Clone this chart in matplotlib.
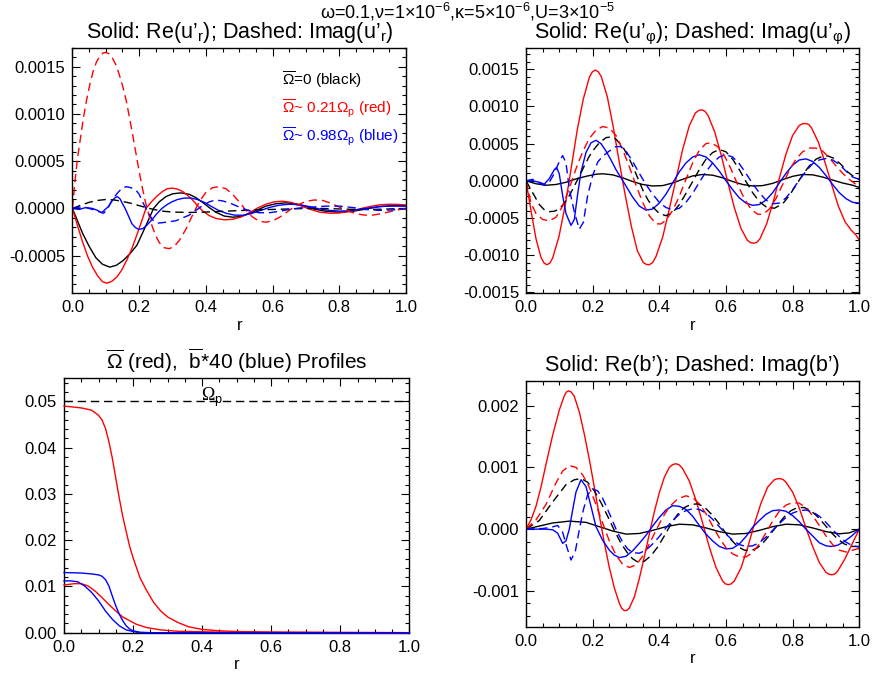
import numpy as np
import matplotlib
matplotlib.use("Agg")
import matplotlib.pyplot as plt
from matplotlib.ticker import MultipleLocator, FuncFormatter

plt.rcParams["font.family"] = ["Liberation Sans", "DejaVu Sans"]
plt.rcParams["mathtext.fontset"] = "custom"
plt.rcParams["mathtext.rm"] = "Liberation Sans"
plt.rcParams["mathtext.it"] = "Liberation Sans:italic"
plt.rcParams["mathtext.bf"] = "Liberation Sans:bold"
plt.rcParams["axes.unicode_minus"] = False

# perturbation values are stored in units of 1e-4
SCALE = 1e-4

# ---- panel 1: u'_r ----
UR_RE_K_R = [0.0, 0.015, 0.03, 0.05, 0.07, 0.09, 0.112, 0.132, 0.152, 0.172, 0.193, 0.21,
             0.228, 0.243, 0.26, 0.28, 0.30, 0.325, 0.35, 0.37, 0.39, 0.41, 0.43, 0.455,
             0.48, 0.505, 0.53, 0.555, 0.58, 0.61, 0.64, 0.67, 0.70, 0.73, 0.76, 0.80,
             0.84, 0.88, 0.92, 0.96, 1.0]
UR_RE_K = [0.0, -1.3, -2.6, -4.0, -5.2, -5.9, -6.2, -6.0, -5.5, -4.8, -3.9, -2.6,
           -1.2, 0.0, 0.7, 1.25, 1.55, 1.65, 1.5, 1.15, 0.65, 0.1, -0.4, -0.8,
           -0.92, -0.85, -0.55, -0.15, 0.25, 0.5, 0.6, 0.5, 0.2, -0.1, -0.3, -0.39,
           -0.3, -0.05, 0.2, 0.3, 0.3]

UR_RE_R_R = [0.0, 0.015, 0.03, 0.045, 0.06, 0.075, 0.09, 0.103, 0.118, 0.133, 0.148,
             0.163, 0.178, 0.193, 0.208, 0.22, 0.238, 0.253, 0.27, 0.285, 0.30, 0.315,
             0.33, 0.345, 0.36, 0.375, 0.39, 0.41, 0.43, 0.455, 0.48, 0.505, 0.53,
             0.555, 0.58, 0.605, 0.63, 0.655, 0.68, 0.71, 0.74, 0.77, 0.80, 0.83, 0.86,
             0.89, 0.92, 0.95, 0.975, 1.0]
UR_RE_R = [0.0, -1.8, -3.5, -5.0, -6.2, -7.1, -7.75, -7.9, -7.7, -7.25, -6.5,
           -5.45, -4.25, -2.8, -1.3, 0.0, 0.75, 1.3, 1.8, 2.1, 2.15, 2.05,
           1.8, 1.4, 0.9, 0.3, -0.25, -0.75, -1.05, -1.2, -1.15, -0.9, -0.45,
           0.05, 0.45, 0.7, 0.77, 0.65, 0.35, -0.05, -0.38, -0.5, -0.48, -0.3, -0.05,
           0.2, 0.38, 0.45, 0.43, 0.38]

UR_RE_B_R = [0.0, 0.02, 0.04, 0.06, 0.075, 0.088, 0.098, 0.108, 0.118, 0.128, 0.135,
             0.143, 0.15, 0.158, 0.168, 0.178, 0.188, 0.198, 0.21, 0.222, 0.238, 0.253,
             0.268, 0.283, 0.298, 0.315, 0.335, 0.355, 0.375, 0.395, 0.415, 0.435,
             0.46, 0.485, 0.51, 0.535, 0.56, 0.59, 0.62, 0.65, 0.68, 0.71, 0.74,
             0.77, 0.80, 0.83, 0.86, 0.89, 0.92, 0.95, 1.0]
UR_RE_B = [0.0, -0.1, 0.1, 0.0, -0.2, -0.45, -0.1, 0.2, 0.8, 1.15, 1.25,
           1.0, 0.5, 0.0, -0.8, -1.6, -2.0, -2.2, -2.15, -1.8, -1.2, -0.55,
           0.0, 0.4, 0.7, 0.95, 1.1, 1.1, 0.95, 0.65, 0.25, -0.15,
           -0.5, -0.7, -0.72, -0.55, -0.25, 0.1, 0.35, 0.45, 0.4, 0.2, -0.05,
           -0.2, -0.28, -0.25, -0.1, 0.05, 0.2, 0.25, 0.25]

UR_IM_K_R = [0.0, 0.025, 0.05, 0.075, 0.10, 0.125, 0.15, 0.175, 0.20, 0.225, 0.25,
             0.275, 0.30, 0.35, 0.40, 0.45, 0.50, 0.55, 0.60, 0.65, 0.70, 0.75,
             0.80, 0.85, 0.90, 0.95, 1.0]
UR_IM_K = [0.0, 0.35, 0.65, 0.85, 0.95, 0.9, 0.75, 0.55, 0.3, 0.05, -0.15,
           -0.3, -0.38, -0.42, -0.38, -0.3, -0.22, -0.15, -0.1, -0.05, 0.0, 0.0,
           -0.05, -0.1, -0.1, -0.05, 0.0]

UR_IM_R_R = [0.0, 0.008, 0.015, 0.023, 0.032, 0.042, 0.052, 0.062, 0.072, 0.082, 0.092,
             0.10, 0.11, 0.12, 0.13, 0.14, 0.15, 0.16, 0.17, 0.18, 0.19, 0.20, 0.21,
             0.22, 0.23, 0.24, 0.25, 0.26, 0.275, 0.29, 0.305, 0.32, 0.34, 0.36,
             0.38, 0.40, 0.42, 0.44, 0.46, 0.48, 0.50, 0.52, 0.54, 0.56, 0.58, 0.60,
             0.62, 0.64, 0.66, 0.68, 0.70, 0.725, 0.75, 0.775, 0.80, 0.825, 0.85,
             0.875, 0.90, 0.925, 0.95, 0.975, 1.0]
UR_IM_R = [0.0, 3.0, 5.3, 7.2, 9.4, 11.4, 13.1, 14.5, 15.5, 16.1, 16.45,
           16.5, 16.35, 15.9, 15.2, 14.2, 13.0, 11.6, 9.8, 7.9, 5.9, 3.9, 2.1,
           0.5, -0.8, -2.0, -2.9, -3.6, -4.15, -4.25, -4.0, -3.4, -2.2, -0.7,
           0.7, 1.7, 2.2, 2.3, 2.1, 1.5, 0.7, -0.2, -0.9, -1.35, -1.45, -1.3,
           -0.95, -0.45, 0.05, 0.45, 0.75, 0.9, 0.85, 0.55, 0.15, -0.25, -0.55,
           -0.7, -0.7, -0.55, -0.35, -0.15, 0.0]

UR_IM_B_R = [0.0, 0.02, 0.04, 0.06, 0.08, 0.094, 0.105, 0.115, 0.125, 0.138, 0.15,
             0.162, 0.175, 0.19, 0.20, 0.213, 0.228, 0.24, 0.255, 0.27, 0.29, 0.31,
             0.33, 0.35, 0.37, 0.39, 0.41, 0.43, 0.45, 0.47, 0.49, 0.51, 0.53,
             0.56, 0.59, 0.62, 0.65, 0.68, 0.72, 0.76, 0.80, 0.84, 0.88, 0.92,
             0.96, 1.0]
UR_IM_B = [0.0, 0.15, 0.1, -0.1, -0.35, -0.5, 0.0, 0.6, 1.2, 1.75, 2.2,
           2.3, 2.2, 1.95, 1.5, 0.5, -0.5, -1.2, -1.55, -1.5, -1.4, -1.3,
           -1.0, -0.7, -0.2, 0.3, 0.7, 0.9, 0.8, 0.6, 0.3, 0.0, -0.25,
           -0.45, -0.45, -0.3, -0.1, 0.05, 0.15, 0.25, 0.25, 0.1, -0.1, -0.2,
           -0.15, -0.05]

# ---- panel 2: u'_phi ----
UP_RE_R_R = [0.0, 0.015, 0.03, 0.045, 0.054, 0.063, 0.072, 0.08, 0.099, 0.118, 0.136,
             0.154, 0.172, 0.19, 0.199, 0.208, 0.217, 0.226, 0.244, 0.262, 0.28, 0.298,
             0.316, 0.334, 0.352, 0.361, 0.37, 0.38, 0.39, 0.41, 0.43, 0.45, 0.47,
             0.49, 0.508, 0.518, 0.527, 0.537, 0.546, 0.566, 0.586, 0.605, 0.625,
             0.645, 0.664, 0.673, 0.683, 0.692, 0.702, 0.722, 0.742, 0.761, 0.78,
             0.80, 0.819, 0.828, 0.838, 0.848, 0.857, 0.877, 0.897, 0.917, 0.937,
             0.957, 0.975, 0.99, 1.0]
UP_RE_R = [0.0, -4.0, -7.8, -10.3, -11.05, -11.3, -11.05, -10.4, -7.5, -3.2, 1.8,
           6.9, 11.0, 13.9, 14.65, 14.9, 14.65, 14.0, 11.3, 7.2, 2.5, -2.0,
           -6.1, -9.4, -11.0, -11.25, -11.3, -11.0, -10.2, -7.6, -3.8, 0.2, 4.2,
           7.4, 9.1, 9.45, 9.55, 9.35, 8.8, 6.6, 3.4, -0.1, -3.6,
           -6.4, -8.0, -8.3, -8.4, -8.3, -7.8, -5.8, -2.8, 0.5, 3.6,
           6.1, 7.4, 7.65, 7.7, 7.6, 7.1, 5.2, 2.5, -0.5, -3.4,
           -5.5, -6.6, -7.3, -8.0]

UP_RE_K_R = [0.0, 0.03, 0.06, 0.09, 0.12, 0.15, 0.18, 0.21, 0.23, 0.26, 0.29, 0.32,
             0.35, 0.38, 0.41, 0.44, 0.47, 0.50, 0.53, 0.56, 0.59, 0.62, 0.65, 0.68,
             0.71, 0.74, 0.77, 0.80, 0.83, 0.86, 0.89, 0.92, 0.95, 0.98, 1.0]
UP_RE_K = [0.0, -0.4, -0.6, -0.5, -0.2, 0.25, 0.6, 0.88, 0.94, 0.8, 0.4, -0.1,
           -0.5, -0.7, -0.65, -0.3, 0.2, 0.65, 0.85, 0.75, 0.4, -0.1, -0.5, -0.7,
           -0.65, -0.35, 0.15, 0.6, 0.85, 0.8, 0.5, 0.1, -0.3, -0.6, -0.9]

UP_RE_B_R = [0.0, 0.02, 0.04, 0.055, 0.07, 0.085, 0.092, 0.10, 0.11, 0.12, 0.135,
             0.145, 0.155, 0.165, 0.18, 0.195, 0.21, 0.225, 0.24, 0.255, 0.27, 0.285,
             0.30, 0.32, 0.34, 0.36, 0.38, 0.40, 0.42, 0.44, 0.46, 0.48, 0.50, 0.52,
             0.54, 0.56, 0.58, 0.60, 0.62, 0.64, 0.66, 0.68, 0.70, 0.72, 0.74, 0.76,
             0.78, 0.80, 0.82, 0.84, 0.86, 0.88, 0.90, 0.92, 0.94, 0.96, 0.98, 1.0]
UP_RE_B = [0.0, 0.0, -0.2, -0.45, 0.3, 1.5, 1.8, 0.9, -2.0, -4.4, -6.0,
           -5.2, -1.8, 1.2, 3.8, 5.1, 5.45, 5.0, 4.0, 2.8, 1.5, 0.4,
           -0.7, -2.2, -3.4, -3.95, -3.8, -3.0, -1.8, -0.3, 1.2, 2.4, 3.2, 3.5,
           3.2, 2.4, 1.3, 0.0, -1.2, -2.3, -3.0, -3.3, -3.2, -2.6, -1.6, -0.3,
           1.0, 2.1, 2.8, 2.95, 2.6, 1.8, 0.7, -0.5, -1.6, -2.4, -2.9, -3.0]

UP_IM_R_R = [0.0, 0.015, 0.03, 0.05, 0.07, 0.09, 0.11, 0.13, 0.15, 0.17, 0.19, 0.21,
             0.23, 0.25, 0.27, 0.29, 0.31, 0.33, 0.35, 0.37, 0.39, 0.405, 0.42, 0.44,
             0.46, 0.48, 0.50, 0.52, 0.54, 0.555, 0.575, 0.595, 0.615, 0.635, 0.655,
             0.675, 0.695, 0.712, 0.73, 0.75, 0.77, 0.79, 0.81, 0.83, 0.85, 0.87,
             0.89, 0.91, 0.93, 0.95, 0.97, 0.99, 1.0]
UP_IM_R = [0.0, -3.0, -4.4, -5.2, -5.4, -4.9, -3.4, -1.0, 1.6, 3.9, 5.7, 6.8,
           7.3, 7.1, 6.1, 4.2, 1.9, -0.6, -2.9, -4.7, -5.8, -5.8, -5.3, -4.0,
           -2.1, 0.2, 2.4, 4.1, 5.0, 5.1, 4.6, 3.4, 1.6, -0.5, -2.4,
           -3.8, -4.5, -4.5, -3.8, -2.4, -0.5, 1.4, 2.9, 3.9, 4.4, 4.4,
           4.0, 3.1, 2.0, 1.0, 0.2, -0.5, -0.6]

UP_IM_K_R = [0.0, 0.02, 0.04, 0.055, 0.07, 0.085, 0.10, 0.115, 0.13, 0.145, 0.16,
             0.175, 0.19, 0.205, 0.22, 0.24, 0.255, 0.27, 0.29, 0.305, 0.32, 0.335,
             0.35, 0.365, 0.38, 0.40, 0.42, 0.44, 0.46, 0.48, 0.50, 0.52, 0.54, 0.56,
             0.58, 0.60, 0.62, 0.64, 0.66, 0.68, 0.70, 0.72, 0.745, 0.77, 0.79, 0.81,
             0.83, 0.85, 0.87, 0.89, 0.905, 0.925, 0.945, 0.965, 0.985, 1.0]
UP_IM_K = [0.0, -1.6, -3.2, -3.9, -4.15, -4.1, -3.8, -3.0, -2.0, -0.7, 0.6,
           2.0, 3.3, 4.3, 5.1, 5.8, 5.9, 5.6, 4.6, 3.4, 2.0, 0.4,
           -1.2, -2.5, -3.5, -4.4, -4.7, -4.3, -3.2, -1.7, -0.1, 1.5, 2.9, 3.8,
           4.2, 3.9, 2.9, 1.5, -0.1, -1.6, -2.8, -3.5, -3.7, -3.1, -2.0, -0.6,
           0.8, 2.0, 2.9, 3.3, 3.35, 3.0, 2.2, 1.2, 0.5, 0.2]

UP_IM_B_R = [0.0, 0.02, 0.04, 0.055, 0.07, 0.085, 0.10, 0.11, 0.12, 0.13, 0.145,
             0.16, 0.172, 0.185, 0.20, 0.215, 0.23, 0.25, 0.27, 0.285, 0.30, 0.32,
             0.34, 0.36, 0.38, 0.40, 0.42, 0.44, 0.46, 0.48, 0.50, 0.52, 0.54, 0.56,
             0.58, 0.60, 0.62, 0.64, 0.66, 0.68, 0.70, 0.72, 0.74, 0.76, 0.78, 0.80,
             0.82, 0.84, 0.86, 0.88, 0.90, 0.92, 0.94, 0.96, 0.98, 1.0]
UP_IM_B = [0.0, 0.2, -0.3, -0.6, -0.2, 1.0, 2.6, 3.4, 2.4, -1.1, -4.2,
           -6.5, -5.6, -2.0, 0.7, 2.5, 3.3, 4.0, 4.6, 4.6, 4.0, 2.6,
           1.0, -0.5, -1.8, -2.9, -3.6, -3.9, -3.7, -2.9, -1.7, -0.2, 1.2, 2.4,
           3.2, 3.5, 3.2, 2.3, 1.0, -0.4, -1.6, -2.6, -3.1, -3.0, -2.3, -1.2,
           0.1, 1.3, 2.3, 2.8, 3.0, 2.8, 2.2, 1.3, 0.5, 0.2]

# ---- panel 3: mean profiles (units of 0.01) ----
OMEGA_P = 0.05
PROF_R1_R = [0.0, 0.05, 0.08, 0.10, 0.11, 0.12, 0.13, 0.14, 0.15, 0.16, 0.17, 0.18,
             0.19, 0.20, 0.22, 0.24, 0.26, 0.28, 0.30, 0.33, 0.36, 0.40, 0.45, 0.50,
             0.60, 0.80, 1.0]
PROF_R1 = [4.90, 4.86, 4.81, 4.70, 4.60, 4.42, 4.13, 3.77, 3.34, 2.91, 2.52, 2.19,
           1.87, 1.62, 1.19, 0.90, 0.65, 0.47, 0.34, 0.22, 0.13, 0.07, 0.04, 0.025,
           0.015, 0.005, 0.0]
PROF_R2_R = [0.0, 0.03, 0.05, 0.07, 0.09, 0.11, 0.13, 0.15, 0.17, 0.19, 0.21, 0.24,
             0.28, 0.33, 0.40, 0.50, 1.0]
PROF_R2 = [1.03, 1.06, 1.06, 1.01, 0.90, 0.76, 0.61, 0.47, 0.34, 0.26, 0.18, 0.11,
           0.06, 0.03, 0.02, 0.005, 0.0]
PROF_B1_R = [0.0, 0.05, 0.08, 0.10, 0.11, 0.12, 0.13, 0.14, 0.15, 0.16, 0.17, 0.18,
             0.19, 0.20, 0.22, 0.25, 1.0]
PROF_B1 = [1.30, 1.29, 1.27, 1.25, 1.22, 1.15, 1.01, 0.79, 0.58, 0.40, 0.26, 0.15,
           0.08, 0.04, 0.01, 0.0, 0.0]
PROF_B2_R = [0.0, 0.02, 0.04, 0.06, 0.08, 0.10, 0.12, 0.14, 0.16, 0.18, 0.20, 0.22, 1.0]
PROF_B2 = [1.12, 1.12, 1.10, 1.01, 0.87, 0.69, 0.47, 0.29, 0.15, 0.06, 0.025, 0.0, 0.0]

# ---- panel 4: b' ----
B_RE_R_R = [0.0, 0.015, 0.03, 0.045, 0.06, 0.08, 0.10, 0.115, 0.121, 0.128, 0.136,
            0.145, 0.16, 0.175, 0.19, 0.205, 0.22, 0.235, 0.25, 0.265, 0.28, 0.287,
            0.295, 0.303, 0.31, 0.325, 0.34, 0.355, 0.37, 0.385, 0.40, 0.415, 0.43,
            0.44, 0.45, 0.46, 0.47, 0.49, 0.51, 0.53, 0.55, 0.57, 0.59, 0.598, 0.607,
            0.616, 0.625, 0.645, 0.665, 0.685, 0.705, 0.725, 0.745, 0.753, 0.762,
            0.771, 0.78, 0.80, 0.82, 0.84, 0.86, 0.88, 0.90, 0.909, 0.918, 0.927,
            0.935, 0.955, 0.975, 1.0]
B_RE_R = [0.0, 1.5, 3.7, 6.8, 10.5, 15.2, 19.3, 21.6, 22.2, 22.4, 22.2,
          21.5, 19.0, 15.4, 11.3, 6.8, 2.2, -2.2, -6.2, -9.5, -12.0, -12.8,
          -13.2, -13.15, -12.8, -11.0, -8.0, -4.5, -0.8, 2.8, 5.9, 8.4, 10.0,
          10.45, 10.6, 10.4, 9.8, 7.8, 4.7, 1.0, -2.9, -6.2, -8.4, -8.85, -9.0,
          -8.85, -8.4, -6.3, -3.0, 0.8, 4.2, 6.8, 8.0, 8.15, 8.2,
          8.05, 7.6, 6.0, 3.4, 0.2, -2.8, -5.4, -7.0, -7.3, -7.4, -7.25,
          -6.8, -5.0, -2.8, 0.0]

B_RE_K_R = [0.0, 0.04, 0.08, 0.13, 0.18, 0.22, 0.26, 0.30, 0.34, 0.38, 0.42, 0.46,
            0.50, 0.54, 0.58, 0.62, 0.66, 0.70, 0.74, 0.78, 0.82, 0.86, 0.90, 0.94,
            0.97, 1.0]
B_RE_K = [0.0, 0.5, 1.0, 1.3, 1.1, 0.4, -0.3, -0.8, -0.7, -0.2, 0.4, 0.8,
          0.7, 0.2, -0.4, -0.8, -0.7, -0.2, 0.4, 0.8, 0.7, 0.2, -0.4, -0.75,
          -0.6, 0.0]

B_RE_B_R = [0.0, 0.06, 0.08, 0.095, 0.11, 0.12, 0.13, 0.14, 0.15, 0.165, 0.18,
            0.195, 0.21, 0.23, 0.25, 0.265, 0.28, 0.30, 0.32, 0.34, 0.36, 0.38,
            0.40, 0.42, 0.44, 0.46, 0.48, 0.50, 0.52, 0.54, 0.56, 0.58, 0.60, 0.62,
            0.64, 0.66, 0.68, 0.70, 0.72, 0.74, 0.76, 0.78, 0.80, 0.82, 0.84, 0.86,
            0.88, 0.90, 0.915, 0.935, 0.955, 0.975, 1.0]
B_RE_B = [0.0, 0.0, -0.1, -0.65, -2.3, -1.9, 0.0, 3.1, 6.0, 8.0, 6.9,
          3.7, 0.4, -1.8, -3.4, -4.2, -4.6, -4.4, -3.5, -2.3, -1.0, 0.5,
          1.9, 3.1, 3.8, 3.7, 3.2, 2.1, 0.6, -0.8, -1.9, -2.8, -3.2, -3.1,
          -2.4, -1.2, 0.3, 1.4, 2.4, 3.0, 3.1, 2.9, 2.2, 1.2, 0.0, -1.1,
          -2.2, -2.7, -2.8, -2.6, -2.0, -1.2, 0.0]

B_IM_R_R = [0.0, 0.03, 0.06, 0.09, 0.11, 0.13, 0.15, 0.17, 0.19, 0.21, 0.23, 0.25,
            0.27, 0.29, 0.31, 0.33, 0.35, 0.37, 0.39, 0.41, 0.43, 0.455, 0.48, 0.50,
            0.52, 0.54, 0.56, 0.58, 0.60, 0.62, 0.64, 0.66, 0.68, 0.70, 0.72, 0.74,
            0.76, 0.78, 0.80, 0.82, 0.84, 0.86, 0.88, 0.90, 0.92, 0.94, 0.96, 0.98,
            1.0]
B_IM_R = [0.0, 1.5, 4.0, 7.5, 9.4, 10.3, 10.0, 8.8, 6.8, 4.0, 1.0, -1.9,
          -4.2, -5.7, -6.2, -5.8, -4.4, -2.4, -0.2, 1.9, 3.6, 4.9, 5.4, 5.1,
          4.1, 2.5, 0.5, -1.4, -3.0, -4.0, -4.5, -4.5, -3.8, -2.4, -0.6, 1.3,
          2.9, 3.9, 4.3, 4.2, 3.5, 2.2, 0.6, -1.1, -2.5, -3.4, -3.7, -3.4,
          -3.1]

B_IM_K_R = [0.0, 0.04, 0.08, 0.12, 0.145, 0.165, 0.185, 0.205, 0.225, 0.245, 0.265,
            0.285, 0.305, 0.32, 0.335, 0.355, 0.375, 0.395, 0.415, 0.435, 0.455,
            0.475, 0.495, 0.515, 0.535, 0.555, 0.575, 0.595, 0.615, 0.635, 0.655,
            0.675, 0.695, 0.715, 0.735, 0.755, 0.775, 0.795, 0.815, 0.835, 0.855,
            0.875, 0.895, 0.915, 0.935, 0.955, 0.975, 1.0]
B_IM_K = [0.0, 1.4, 4.4, 7.2, 8.0, 8.2, 7.6, 6.2, 4.3, 2.1, -0.2,
          -2.3, -3.9, -4.8, -5.3, -5.2, -4.3, -2.9, -1.1, 0.8, 2.4,
          3.5, 4.0, 4.1, 3.6, 2.5, 1.2, -0.3, -1.7, -2.8, -3.4,
          -3.5, -3.0, -2.0, -0.7, 0.7, 2.0, 3.0, 3.5, 3.5, 3.0,
          2.0, 0.8, -0.5, -1.6, -2.4, -2.8, -2.8]

B_IM_B_R = [0.0, 0.05, 0.075, 0.095, 0.11, 0.122, 0.135, 0.148, 0.16, 0.172, 0.185,
            0.20, 0.215, 0.23, 0.245, 0.26, 0.275, 0.29, 0.305, 0.32, 0.34, 0.36,
            0.38, 0.40, 0.42, 0.44, 0.46, 0.48, 0.50, 0.52, 0.54, 0.56, 0.58, 0.60,
            0.62, 0.64, 0.66, 0.68, 0.70, 0.72, 0.74, 0.76, 0.78, 0.80, 0.82, 0.84,
            0.86, 0.88, 0.90, 0.92, 0.94, 0.96, 0.98, 1.0]
B_IM_B = [0.0, 0.1, 0.3, 0.6, -0.5, -2.8, -5.0, -3.6, -0.1, 3.1, 5.6,
          6.5, 6.2, 5.0, 3.2, 1.3, -0.6, -2.1, -3.2, -3.8, -3.9, -3.4,
          -2.4, -1.2, 0.2, 1.4, 2.4, 3.0, 3.3, 3.2, 2.6, 1.6, 0.4, -0.8,
          -1.8, -2.5, -2.8, -2.7, -2.2, -1.3, -0.2, 0.9, 1.9, 2.6, 3.0, 3.1,
          2.8, 2.1, 1.1, -0.1, -1.2, -2.1, -2.7, -2.9]

TITLES = [
    "Solid: Re(u\u2019$_{\\rm r}$); Dashed: Imag(u\u2019$_{\\rm r}$)",
    "Solid: Re(u\u2019$_{\\rm \u03c6}$); Dashed: Imag(u\u2019$_{\\rm \u03c6}$)",
    "$\\overline{\\Omega}$ (red),  $\\overline{\\rm b}$*40 (blue) Profiles",
    "Solid: Re(b\u2019); Dashed: Imag(b\u2019)",
]
SUPTITLE = ("\u03c9=0.1,\u03bd=1\u00d710$^{-6}$,\u03ba=5\u00d710$^{-6}$,"
            "U=3\u00d710$^{-5}$")
LEGEND = [
    ("$\\overline{\\Omega}$=0 (black)", "black"),
    ("$\\overline{\\Omega}$~ 0.21$\\Omega_{\\rm p}$ (red)", "red"),
    ("$\\overline{\\Omega}$~ 0.98$\\Omega_{\\rm p}$ (blue)", "blue"),
]

DASH = (6, 3.5)


def tick_fmt(fmt):
    return FuncFormatter(lambda v, _: fmt % (0.0 if abs(v) < 1e-12 else v))


def style_axes(ax, ylim, ymajor, yminor, yfmt):
    ax.set_xlim(0, 1)
    ax.set_ylim(*ylim)
    ax.xaxis.set_major_locator(MultipleLocator(0.2))
    ax.xaxis.set_minor_locator(MultipleLocator(0.05))
    ax.yaxis.set_major_locator(MultipleLocator(ymajor))
    ax.yaxis.set_minor_locator(MultipleLocator(yminor))
    ax.xaxis.set_major_formatter(tick_fmt("%.1f"))
    ax.yaxis.set_major_formatter(tick_fmt(yfmt))
    ax.tick_params(which="both", direction="in", top=True, right=True,
                   labelsize=12, width=0.8)
    ax.tick_params(which="major", length=6, pad=5)
    ax.tick_params(which="minor", length=3)
    for sp in ax.spines.values():
        sp.set_linewidth(1.0)
    ax.set_xlabel("r", fontsize=12, labelpad=2)


def wave(ax, r, v, color, dashed=False):
    line, = ax.plot(r, np.asarray(v) * SCALE, color=color, lw=1.0)
    if dashed:
        line.set_dashes(DASH)


fig = plt.figure(figsize=(8.73, 6.73), dpi=100)
ax1 = fig.add_axes([0.0830, 0.5646, 0.3821, 0.3645])
ax2 = fig.add_axes([0.6025, 0.5646, 0.3818, 0.3645])
ax3 = fig.add_axes([0.0733, 0.0599, 0.3956, 0.3780])
ax4 = fig.add_axes([0.6025, 0.0688, 0.3818, 0.3651])

# panel 1
wave(ax1, UR_RE_K_R, UR_RE_K, "black")
wave(ax1, UR_RE_R_R, UR_RE_R, "red")
wave(ax1, UR_RE_B_R, UR_RE_B, "blue")
wave(ax1, UR_IM_K_R, UR_IM_K, "black", True)
wave(ax1, UR_IM_R_R, UR_IM_R, "red", True)
wave(ax1, UR_IM_B_R, UR_IM_B, "blue", True)
style_axes(ax1, (-0.000894, 0.0017), 0.0005, 0.0001, "%.4f")
ax1.set_title(TITLES[0], fontsize=15.5, pad=7)
for i, (txt, col) in enumerate(LEGEND):
    ax1.text(0.628, 0.868 - 0.116 * i, txt, color=col, fontsize=11,
             transform=ax1.transAxes, va="center")

# panel 2
wave(ax2, UP_RE_K_R, UP_RE_K, "black")
wave(ax2, UP_RE_R_R, UP_RE_R, "red")
wave(ax2, UP_RE_B_R, UP_RE_B, "blue")
wave(ax2, UP_IM_K_R, UP_IM_K, "black", True)
wave(ax2, UP_IM_R_R, UP_IM_R, "red", True)
wave(ax2, UP_IM_B_R, UP_IM_B, "blue", True)
style_axes(ax2, (-0.00151, 0.00179), 0.0005, 0.0001, "%.4f")
ax2.set_title(TITLES[1], fontsize=15.5, pad=7)

# panel 3
for r, v, col in [(PROF_R1_R, PROF_R1, "red"), (PROF_R2_R, PROF_R2, "red"),
                  (PROF_B1_R, PROF_B1, "blue"), (PROF_B2_R, PROF_B2, "blue")]:
    ax3.plot(r, np.asarray(v) * 0.01, color=col, lw=1.0, clip_on=False, zorder=3)
ax3.axhline(OMEGA_P, color="black", lw=1.0, dashes=DASH)
ax3.text(0.398, OMEGA_P, "\u03a9$_{\\rm p}$", fontsize=13, va="baseline",
         family=["Liberation Serif", "DejaVu Serif"])
style_axes(ax3, (0, 0.055), 0.01, 0.002, "%.2f")
ax3.set_title(TITLES[2], fontsize=15, pad=7)

# panel 4
wave(ax4, B_RE_K_R, B_RE_K, "black")
wave(ax4, B_RE_R_R, B_RE_R, "red")
wave(ax4, B_RE_B_R, B_RE_B, "blue")
wave(ax4, B_IM_K_R, B_IM_K, "black", True)
wave(ax4, B_IM_R_R, B_IM_R, "red", True)
wave(ax4, B_IM_B_R, B_IM_B, "blue", True)
style_axes(ax4, (-0.00158, 0.0024), 0.001, 0.0002, "%.3f")
ax4.set_title(TITLES[3], fontsize=15.5, pad=7)

fig.text(0.536, 0.982, SUPTITLE, fontsize=13, ha="center", va="center")

fig.savefig("out.png", dpi=100)
